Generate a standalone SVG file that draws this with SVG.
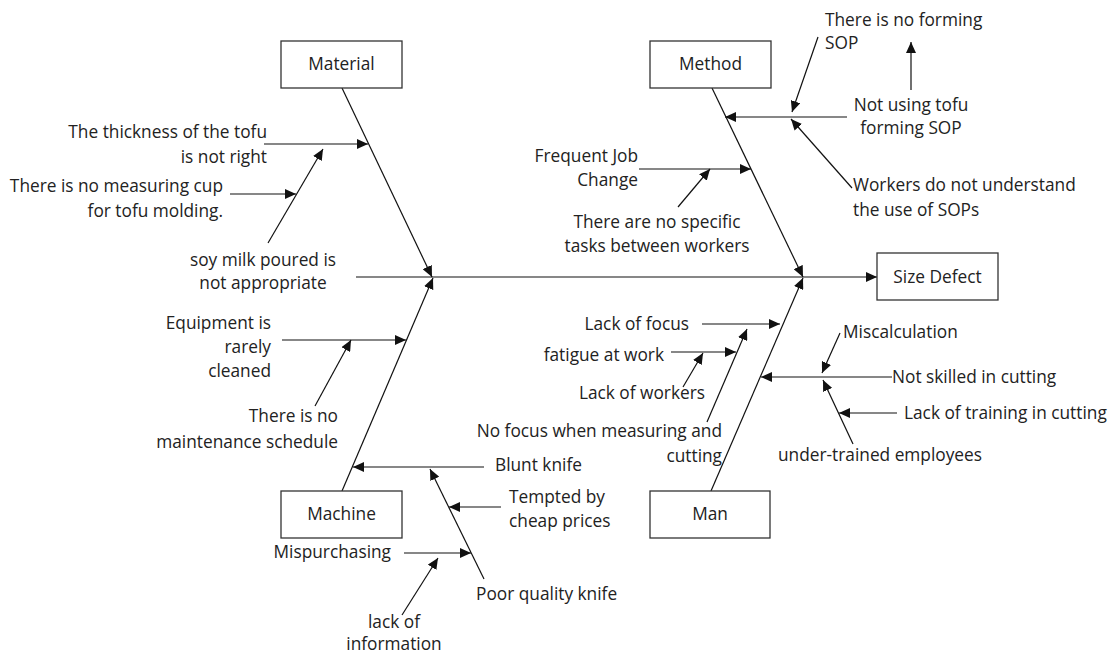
<svg xmlns="http://www.w3.org/2000/svg" width="1111" height="655" viewBox="0 0 1111 655">
<defs>
<marker id="ah" markerUnits="userSpaceOnUse" markerWidth="12" markerHeight="10" refX="11" refY="5" orient="auto">
<path d="M0,0 L11,5 L0,10 Z" fill="#111"/>
</marker>
<style>
text{font-family:"Open Sans","Noto Sans",sans-serif;font-size:17.3px;fill:#222}
.e{text-anchor:end}.m{text-anchor:middle}
.box{fill:#fff;stroke:#333;stroke-width:1.3}
#connectors line{stroke:#111;stroke-width:1.2;marker-end:url(#ah)}
</style>
</defs>
<rect width="1111" height="655" fill="#fff"/>
<g id="connectors">
<line x1="356" y1="277" x2="877" y2="277"/>
<line x1="342" y1="88" x2="432" y2="277"/>
<line x1="712" y1="88" x2="803" y2="277"/>
<line x1="342" y1="491" x2="433" y2="278"/>
<line x1="711" y1="491" x2="803" y2="278"/>
<line x1="264" y1="144" x2="368" y2="144"/>
<line x1="268" y1="243" x2="323" y2="149"/>
<line x1="230" y1="194" x2="296" y2="194"/>
<line x1="282" y1="340" x2="406" y2="340"/>
<line x1="315" y1="406" x2="351" y2="340"/>
<line x1="484" y1="467" x2="353" y2="467"/>
<line x1="484" y1="579" x2="430" y2="469"/>
<line x1="501" y1="507" x2="449" y2="507"/>
<line x1="404" y1="553" x2="471" y2="553"/>
<line x1="402" y1="615" x2="438" y2="558"/>
<line x1="639" y1="169" x2="751" y2="169"/>
<line x1="678" y1="207" x2="710" y2="169"/>
<line x1="847" y1="117" x2="725" y2="117"/>
<line x1="818" y1="37" x2="792" y2="112"/>
<line x1="852" y1="188" x2="791" y2="119"/>
<line x1="911" y1="90" x2="911" y2="42"/>
<line x1="702" y1="324" x2="780" y2="324"/>
<line x1="671" y1="352" x2="736" y2="352"/>
<line x1="707" y1="422" x2="747" y2="329"/>
<line x1="683" y1="387" x2="703" y2="353"/>
<line x1="892" y1="377" x2="761" y2="377"/>
<line x1="840" y1="333" x2="822" y2="373"/>
<line x1="853" y1="444" x2="823" y2="380"/>
<line x1="897" y1="413" x2="839" y2="413"/>
</g>
<g id="material"><rect class="box" x="281" y="41" width="121" height="47"/><text class="m" x="341.5" y="70">Material</text></g>
<g id="method"><rect class="box" x="650" y="41" width="121" height="47"/><text class="m" x="710.5" y="70">Method</text></g>
<g id="machine"><rect class="box" x="281" y="491" width="121" height="47"/><text class="m" x="341.5" y="520">Machine</text></g>
<g id="man"><rect class="box" x="650" y="491" width="120" height="47"/><text class="m" x="710" y="520">Man</text></g>
<g id="size-defect"><rect class="box" x="877" y="253" width="121" height="47"/><text class="m" x="937.5" y="283">Size Defect</text></g>
<g id="thickness"><text class="e" x="267" y="138">The thickness of the tofu</text><text class="e" x="267" y="163">is not right</text></g>
<g id="measuring-cup"><text class="e" x="223" y="192">There is no measuring cup</text><text class="e" x="223" y="217">for tofu molding.</text></g>
<g id="soy-milk"><text class="m" x="263" y="266">soy milk poured is</text><text class="m" x="263" y="289">not appropriate</text></g>
<g id="equipment"><text class="e" x="271" y="329">Equipment is</text><text class="e" x="271" y="353">rarely</text><text class="e" x="271" y="377">cleaned</text></g>
<g id="maintenance"><text class="e" x="338" y="422">There is no</text><text class="e" x="338" y="448">maintenance schedule</text></g>
<g id="mispurchasing"><text class="e" x="391" y="558">Mispurchasing</text></g>
<g id="lack-info"><text class="m" x="394" y="628">lack of</text><text class="m" x="394" y="650">information</text></g>
<g id="blunt"><text x="495" y="471">Blunt knife</text></g>
<g id="tempted"><text x="509" y="503">Tempted by</text><text x="509" y="527">cheap prices</text></g>
<g id="poor-quality"><text x="476" y="600">Poor quality knife</text></g>
<g id="no-forming"><text x="825" y="26">There is no forming</text><text x="825" y="49">SOP</text></g>
<g id="not-using"><text class="m" x="911" y="111">Not using tofu</text><text class="m" x="911" y="134">forming SOP</text></g>
<g id="workers-sop"><text x="853" y="191">Workers do not understand</text><text x="853" y="216">the use of SOPs</text></g>
<g id="job-change"><text class="e" x="638" y="162">Frequent Job</text><text class="e" x="638" y="186">Change</text></g>
<g id="no-tasks"><text class="m" x="657" y="228">There are no specific</text><text class="m" x="657" y="252">tasks between workers</text></g>
<g id="lack-focus"><text class="e" x="689" y="330">Lack of focus</text></g>
<g id="fatigue"><text class="e" x="664" y="361">fatigue at work</text></g>
<g id="lack-workers"><text class="e" x="705" y="399">Lack of workers</text></g>
<g id="no-focus"><text class="e" x="722" y="437">No focus when measuring and</text><text class="e" x="722" y="462">cutting</text></g>
<g id="miscalc"><text x="843" y="338">Miscalculation</text></g>
<g id="not-skilled"><text x="892" y="383">Not skilled in cutting</text></g>
<g id="lack-training"><text x="904" y="419">Lack of training in cutting</text></g>
<g id="under-trained"><text x="778" y="461">under-trained employees</text></g>
</svg>
